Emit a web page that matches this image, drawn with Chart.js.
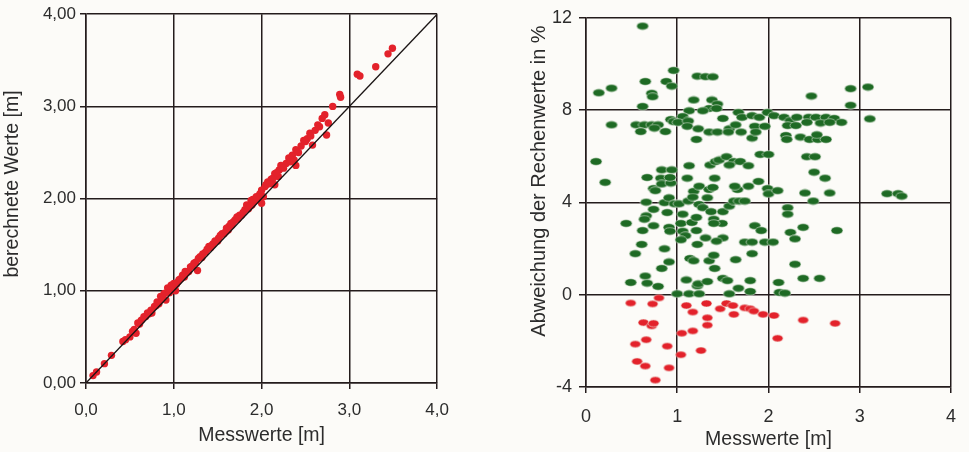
<!DOCTYPE html>
<html>
<head>
<meta charset="utf-8">
<script src="https://cdn.jsdelivr.net/npm/chart.js@4/dist/chart.umd.min.js"></script>
<style>
  html, body { margin: 0; padding: 0; background: #fcfbf8; }
  body { width: 969px; height: 452px; position: relative; overflow: hidden; }
  canvas { position: absolute; top: 0; }
  #links { left: 0; }
  #rechts { left: 500px; }
</style>
</head>
<body>
<canvas id="links" width="460" height="452"></canvas>
<canvas id="rechts" width="469" height="452"></canvas>
<script>
// Linkes Diagramm: Messwerte gegen berechnete Werte [m]
const messLinks = [0.08, 0.12, 0.21, 0.29, 0.42, 0.50, 0.53, 0.57, 0.59, 0.63, 0.66, 0.70, 0.74, 0.75, 0.78, 0.81,
  0.85, 0.89, 0.91, 0.93, 0.95, 0.97, 1.00, 1.02, 1.05, 1.06, 1.10, 1.13, 1.15, 1.17, 1.19, 1.23, 1.25, 1.27,
  1.30, 1.33, 1.36, 1.40, 1.42, 1.45, 1.51, 1.55, 1.57, 1.60, 1.63, 1.66, 1.70, 1.72, 1.75, 1.77, 1.81, 1.83,
  1.85, 1.88, 1.89, 1.92, 1.95, 1.98, 2.00, 2.00, 2.02, 2.04, 2.07, 2.11, 2.15, 2.15, 2.19, 2.20, 2.22, 2.28,
  2.31, 2.35, 2.37, 2.39, 2.39, 2.45, 2.48, 2.52, 2.55, 2.58, 2.61, 2.64, 2.69, 2.72, 2.74, 2.76, 2.81, 2.89,
  2.90, 3.09, 3.12, 3.30, 3.44, 3.49,
  0.45, 0.55, 0.61, 0.68, 0.72, 0.80, 0.83, 0.87, 0.99, 1.03, 1.08, 1.12, 1.21, 1.28, 1.32, 1.38, 1.44, 1.47,
  1.50, 1.53, 1.59, 1.62, 1.65, 1.68, 1.73, 1.79, 1.87, 1.90, 1.94, 2.05, 2.09, 2.13, 2.17, 2.25, 2.33, 2.42,
  2.50, 2.56, 2.66];
const rechLinks = [0.08, 0.12, 0.21, 0.30, 0.45, 0.50, 0.56, 0.54, 0.65, 0.68, 0.72, 0.76, 0.79, 0.76, 0.83, 0.88,
  0.94, 0.97, 0.90, 1.03, 0.98, 1.06, 1.08, 1.00, 1.10, 1.12, 1.17, 1.21, 1.20, 1.21, 1.26, 1.30, 1.31, 1.22,
  1.37, 1.40, 1.42, 1.48, 1.47, 1.51, 1.57, 1.62, 1.62, 1.68, 1.70, 1.71, 1.77, 1.80, 1.82, 1.82, 1.88, 1.93,
  1.89, 1.98, 1.93, 1.97, 2.00, 2.05, 1.95, 2.09, 2.02, 2.13, 2.18, 2.21, 2.27, 2.15, 2.24, 2.31, 2.36, 2.38,
  2.44, 2.47, 2.42, 2.53, 2.36, 2.57, 2.63, 2.65, 2.71, 2.58, 2.74, 2.80, 2.87, 2.91, 2.69, 2.82, 3.00, 3.13,
  3.10, 3.35, 3.33, 3.43, 3.57, 3.63,
  0.47, 0.58, 0.64, 0.72, 0.75, 0.84, 0.86, 0.92, 1.04, 1.07, 1.13, 1.15, 1.27, 1.35, 1.36, 1.45, 1.50, 1.54,
  1.54, 1.60, 1.64, 1.66, 1.73, 1.75, 1.78, 1.85, 1.92, 1.99, 2.02, 2.15, 2.16, 2.22, 2.28, 2.33, 2.40, 2.50,
  2.62, 2.68, 2.78];
const linie = [0, 4];

// Rechtes Diagramm: Abweichung der Rechenwerte in %
const messPlus = [0.62, 0.14, 0.28, 0.28, 0.11, 0.21, 0.65, 0.72, 0.73, 0.62, 0.88, 0.94, 0.96, 1.22, 1.31, 1.39,
  1.18, 1.38, 1.44, 1.35, 1.43, 1.13, 1.28, 1.06, 0.93, 0.96, 0.55, 0.64, 0.72, 0.79, 0.60, 0.75, 0.87, 1.01,
  1.12, 1.11, 1.23, 1.35, 1.44, 1.21, 1.50, 1.57, 1.64, 1.56, 1.70, 1.67, 1.71, 1.82, 1.90, 1.99, 2.06, 1.85,
  1.96, 1.82, 1.86, 1.91, 2.00, 2.17, 2.24, 2.31, 2.21, 2.30, 2.19, 2.20, 2.35, 2.44, 2.52, 2.63, 2.72, 2.80,
  2.42, 2.57, 2.67, 2.47, 2.45, 2.54, 2.63, 2.53, 2.42, 2.51, 2.50, 2.62, 2.67, 2.40, 2.49, 2.90, 2.90, 3.09,
  3.11, 3.30, 3.42, 3.46,
  0.44, 0.54, 0.49, 0.61, 0.62, 0.66, 0.64, 0.66, 0.67, 0.65, 0.67, 0.79, 0.74, 0.74, 0.74, 0.76, 0.83, 0.82,
  0.83, 0.86, 0.91, 0.93, 0.94, 0.92, 0.97, 1.02, 0.89, 0.91, 0.92, 0.86, 0.91, 0.83, 1.04, 1.06, 1.12, 1.11,
  1.13, 1.06, 1.09, 1.04, 1.16, 1.21, 1.21, 1.18, 1.17, 1.24, 1.24, 1.28, 1.33, 1.35, 1.39, 1.41, 1.36, 1.42,
  1.46, 1.54, 1.62, 1.57, 1.69, 1.78, 1.37, 1.40, 1.49, 1.40, 1.50, 1.57, 1.62, 1.68, 1.74, 1.66, 1.78, 1.89,
  1.63, 1.99, 2.00, 2.10, 2.21, 2.21, 2.24, 2.29, 2.38, 2.29, 2.38, 2.56, 2.75, 2.11, 2.12, 2.18, 1.85, 1.92,
  1.74, 1.82, 1.96, 2.05, 1.82, 1.64, 1.80, 1.80, 1.67, 1.57, 1.50, 1.43, 1.31, 1.22, 1.14, 1.18, 1.35, 1.40,
  1.41, 1.10, 1.22, 1.23, 1.33, 1.50, 1.55, 1.00, 1.13, 1.24];
const abwPlus = [11.64, 8.75, 8.95, 7.36, 5.77, 4.87, 9.24, 8.73, 8.58, 8.16, 9.24, 9.04, 9.72, 9.47, 9.45, 9.44,
  8.44, 8.44, 8.26, 8.07, 8.07, 7.97, 7.97, 7.72, 7.59, 7.50, 7.36, 7.36, 7.36, 7.36, 7.07, 7.22, 7.07, 7.47,
  7.53, 7.30, 7.19, 7.05, 7.05, 6.73, 7.64, 7.19, 7.36, 7.05, 7.05, 7.90, 7.69, 7.76, 7.69, 7.90, 7.76, 7.30,
  7.30, 6.79, 7.05, 6.08, 6.08, 7.69, 7.54, 7.69, 7.33, 7.33, 6.90, 6.73, 6.83, 7.69, 7.69, 7.69, 7.64, 7.47,
  7.47, 7.44, 7.47, 8.61, 6.73, 6.73, 6.73, 6.93, 5.98, 5.98, 5.31, 5.05, 4.41, 4.41, 4.06, 8.93, 8.21, 9.00,
  7.62, 4.38, 4.38, 4.27,
  3.09, 1.78, 0.53, 2.18, 2.78, 3.42, 3.27, 4.01, 5.08, 0.81, 0.50, 0.36, 2.99, 3.70, 4.60, 4.51, 5.41, 5.05,
  4.80, 3.99, 4.20, 4.84, 5.41, 5.08, 3.94, 3.94, 3.56, 2.92, 2.75, 1.99, 1.42, 1.14, 3.09, 3.49, 4.06, 5.05,
  5.59, 2.75, 2.56, 2.38, 3.13, 3.35, 2.78, 4.48, 4.23, 4.70, 3.91, 3.77, 4.20, 4.56, 4.65, 5.05, 5.62, 5.77,
  5.84, 5.98, 5.77, 5.62, 5.77, 5.59, 3.60, 3.27, 3.09, 3.09, 3.60, 3.84, 4.06, 4.06, 4.06, 4.56, 4.70, 4.91,
  4.70, 4.60, 4.37, 4.51, 3.77, 3.49, 2.70, 2.42, 2.92, 1.32, 0.71, 0.71, 2.78, 0.53, 0.10, 0.07, 2.99, 2.78,
  2.28, 2.28, 2.28, 2.28, 1.78, 1.52, 0.61, 0.14, 0.28, 0.04, 2.46, 2.32, 2.46, 2.18, 1.57, 1.47, 1.47, 1.71,
  1.14, 0.64, 0.38, 0.47, 0.57, 0.71, 0.61, 0.04, 0.04, 0.04];
const messMinus = [0.49, 0.54, 0.56, 0.63, 0.66, 0.65, 0.72, 0.74, 0.73, 0.80, 0.76, 0.89, 0.91, 1.04, 1.05, 1.10,
  1.17, 1.17, 1.26, 1.32, 1.33, 1.33, 1.47, 1.54, 1.61, 1.62, 1.74, 1.80, 1.84, 1.94, 2.06, 2.10, 2.38, 2.73];
const abwMinus = [-0.36, -2.14, -2.89, -1.21, -1.95, -3.09, -1.35, -1.24, -0.40, -0.14, -3.70, -2.23, -3.17, -2.60,
  -1.67, -0.47, -0.75, -1.57, -2.42, -0.38, -1.00, -1.32, -0.61, -0.38, -0.47, -0.85, -0.57, -0.61, -0.71, -0.85,
  -0.90, -1.89, -1.10, -1.24];

const schwarz = '#241c1c';
const schrift = '#2c2c2c';
const rot = '#e3222b';
const gruen = '#1e6a24';

function paare(xs, ys) {
  return xs.map((x, i) => ({ x: x, y: ys[i] }));
}

// Ellipsenfoermige Punkte wie im Original
function ellipse(farbe, w, h) {
  const c = document.createElement('canvas');
  c.width = w + 2;
  c.height = h + 2;
  const g = c.getContext('2d');
  g.fillStyle = farbe;
  g.strokeStyle = 'rgba(240,245,235,0.7)';
  g.lineWidth = 0.8;
  g.beginPath();
  g.ellipse(c.width / 2, c.height / 2, w / 2, h / 2, 0, 0, Math.PI * 2);
  g.fill();
  g.stroke();
  return c;
}

// Y-Achsentitel, etwas oberhalb der Mitte wie im Original
const yTitel = {
  id: 'yTitel',
  afterDraw(chart, args, opts) {
    const ctx = chart.ctx;
    ctx.save();
    ctx.translate(opts.x, opts.y);
    ctx.rotate(-Math.PI / 2);
    ctx.font = opts.size + 'px "Liberation Sans", Arial, sans-serif';
    ctx.fillStyle = schrift;
    ctx.textAlign = 'center';
    ctx.textBaseline = 'middle';
    ctx.fillText(opts.text, 0, 0);
    ctx.restore();
  }
};

Chart.defaults.font.family = '"Liberation Sans", Arial, sans-serif';
Chart.defaults.color = schrift;

function achse(min, max, step, fmt, tickFont, pad, tl, extra) {
  return Object.assign({
    type: 'linear',
    min: min,
    max: max,
    ticks: { stepSize: step, callback: fmt, font: { size: tickFont }, color: schrift, padding: pad },
    grid: { color: schwarz, lineWidth: 1.5, tickLength: tl, tickColor: schwarz },
    border: { color: schwarz, width: 1.5 }
  }, extra);
}

// Linkes Diagramm
new Chart(document.getElementById('links'), {
  type: 'scatter',
  data: {
    datasets: [{
        data: paare(linie, linie),
        showLine: true,
        borderColor: '#1a1414',
        borderWidth: 1.3,
        pointRadius: 0,
        order: 0
      },
      {
        data: paare(messLinks, rechLinks),
        backgroundColor: rot,
        borderWidth: 0,
        pointRadius: 3.7,
        order: 1
      }
    ]
  },
  options: {
    responsive: false,
    animation: false,
    layout: { padding: { top: 14, right: 19, left: 0, bottom: 0 } },
    plugins: {
      legend: { display: false },
      tooltip: { enabled: false },
      yTitel: { text: 'berechnete Werte [m]', x: 13, y: 184, size: 19.5 }
    },
    scales: {
      x: achse(0, 4, 1, v => v.toFixed(1).replace('.', ','), 17, 11, 6, {
        title: { display: true, text: 'Messwerte [m]', font: { size: 19.5 }, color: schrift, padding: { top: 0, bottom: 5 } },
        afterFit: s => { s.height = 69; }
      }),
      y: achse(0, 4, 1, v => v.toFixed(2).replace('.', ','), 17, 4, 6, {
        afterFit: s => { s.width = 86; }
      })
    }
  },
  plugins: [yTitel]
});

// Rechtes Diagramm
new Chart(document.getElementById('rechts'), {
  type: 'scatter',
  data: {
    datasets: [{
        data: paare(messPlus, abwPlus),
        pointStyle: ellipse(gruen, 12, 7.5)
      },
      {
        data: paare(messMinus, abwMinus),
        pointStyle: ellipse(rot, 11, 7)
      }
    ]
  },
  options: {
    responsive: false,
    animation: false,
    layout: { padding: { top: 15, right: 7, left: 0, bottom: 0 } },
    plugins: {
      legend: { display: false },
      tooltip: { enabled: false },
      yTitel: { text: 'Abweichung der Rechenwerte in %', x: 39, y: 181, size: 20 }
    },
    scales: {
      x: achse(0, 4, 1, v => String(v), 18, 13, 6, {
        title: { display: true, text: 'Messwerte [m]', font: { size: 19.5 }, color: schrift, padding: { top: 0, bottom: 1 } },
        afterFit: s => { s.height = 65; }
      }),
      y: achse(-4, 12, 4, v => String(v), 18, 7, 7, {
        afterFit: s => { s.width = 86; }
      })
    }
  },
  plugins: [yTitel]
});
</script>
</body>
</html>
